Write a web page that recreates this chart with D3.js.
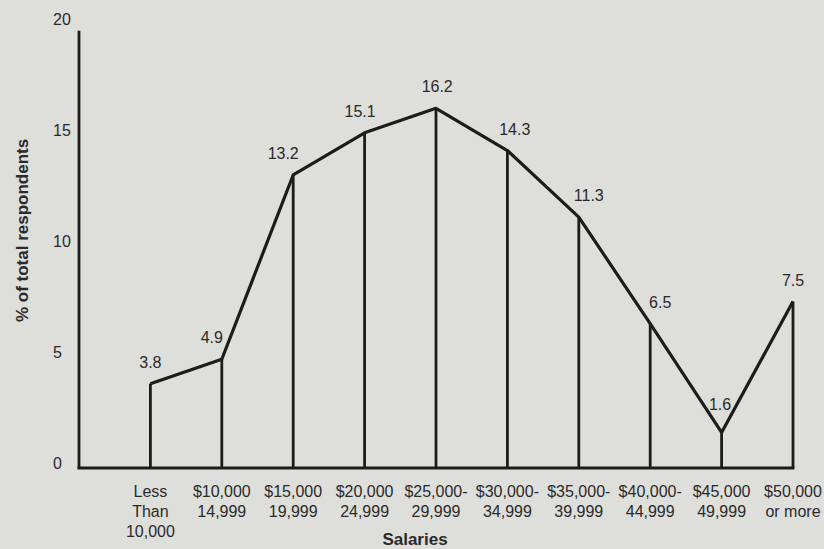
<!DOCTYPE html>
<html>
<head>
<meta charset="utf-8">
<script src="https://cdn.jsdelivr.net/npm/d3@7"></script>
<style>
  body { margin: 0; background: #dededb; }
  svg { display: block; }
  text { font-family: "Liberation Sans", Arial, Helvetica, sans-serif; fill: #2a2a2a; }
</style>
</head>
<body>
<div id="mainContainer"></div>
<script>
'use strict';

var svgWidth = 824,
    svgHeight = 549;

// data
var categories = [
    ['Less', 'Than', '10,000'],
    ['$10,000', '14,999'],
    ['$15,000', '19,999'],
    ['$20,000', '24,999'],
    ['$25,000-', '29,999'],
    ['$30,000-', '34,999'],
    ['$35,000-', '39,999'],
    ['$40,000-', '44,999'],
    ['$45,000', '49,999'],
    ['$50,000', 'or more']
];
var percents = [3.8, 4.9, 13.2, 15.1, 16.2, 14.3, 11.3, 6.5, 1.6, 7.5];
var yTicks = [0, 5, 10, 15, 20];

var svg = d3.select('#mainContainer')
    .append('svg')
    .attr('width', svgWidth)
    .attr('height', svgHeight);

// paper background
svg.append('rect')
    .attr('width', svgWidth)
    .attr('height', svgHeight)
    .attr('fill', '#dededb');

var x = d3.scaleLinear().domain([0, categories.length]).range([79, 793]);
var y = d3.scaleLinear().domain([0, 20]).range([468, 24]);

var ink = '#1c1c1c';

// y axis line + tick labels
svg.append('line')
    .attr('x1', x(0)).attr('x2', x(0))
    .attr('y1', y(0) + 1).attr('y2', y(19.7))
    .attr('stroke', ink).attr('stroke-width', 2.8);

svg.selectAll('.ytick')
    .data(yTicks)
    .enter().append('text')
    .attr('class', 'ytick')
    .attr('x', 53)
    .attr('y', function (d) { return y(d) - 5; })
    .attr('dy', '0.35em')
    .attr('font-size', 16)
    .text(function (d) { return d; });

// baseline
svg.append('line')
    .attr('x1', x(0) - 1.4).attr('x2', x(categories.length) + 1.4)
    .attr('y1', y(0)).attr('y2', y(0))
    .attr('stroke', ink).attr('stroke-width', 2.8);

// vertical drop lines
svg.selectAll('.drop')
    .data(percents)
    .enter().append('line')
    .attr('class', 'drop')
    .attr('x1', function (d, i) { return x(i + 1); })
    .attr('x2', function (d, i) { return x(i + 1); })
    .attr('y1', y(0))
    .attr('y2', function (d) { return y(d); })
    .attr('stroke', ink)
    .attr('stroke-width', 2.8);

// the polyline
var line = d3.line()
    .x(function (d, i) { return x(i + 1); })
    .y(function (d) { return y(d); });

svg.append('path')
    .datum(percents)
    .attr('d', line)
    .attr('fill', 'none')
    .attr('stroke', ink)
    .attr('stroke-width', 3.2)
    .attr('stroke-linejoin', 'round');

// value labels, pushed away from the line by the local slope
function nudge(i) {
    if (i === 0 || i === percents.length - 1) { return 0; }
    var s = percents[i + 1] - percents[i - 1];
    return -Math.max(-10, Math.min(10, s * 1.5));
}

svg.selectAll('.val')
    .data(percents)
    .enter().append('text')
    .attr('class', 'val')
    .attr('x', function (d, i) { return x(i + 1) + nudge(i); })
    .attr('y', function (d, i) {
        var dip = i > 0 && i < percents.length - 1 && d < percents[i - 1] && d < percents[i + 1];
        return y(d) - (dip ? 22 : 16);
    })
    .attr('text-anchor', 'middle')
    .attr('font-size', 16)
    .text(function (d) { return d.toFixed(1); });

// category labels
var cat = svg.selectAll('.cat')
    .data(categories)
    .enter().append('text')
    .attr('class', 'cat')
    .attr('text-anchor', 'middle')
    .attr('font-size', 16)
    .attr('transform', function (d, i) { return 'translate(' + x(i + 1) + ',' + (y(0) + 29) + ')'; });

cat.selectAll('tspan')
    .data(function (d) { return d; })
    .enter().append('tspan')
    .attr('x', 0)
    .attr('y', function (d, i) { return i * 20; })
    .text(function (d) { return d; });

// axis titles
svg.append('text')
    .attr('transform', 'translate(28,' + y(10.7) + ') rotate(-90)')
    .attr('text-anchor', 'middle')
    .attr('font-size', 17)
    .attr('font-weight', 'bold')
    .text('% of total respondents');

svg.append('text')
    .attr('x', 415)
    .attr('y', 545)
    .attr('text-anchor', 'middle')
    .attr('font-size', 17)
    .attr('font-weight', 'bold')
    .text('Salaries');
</script>
</body>
</html>
